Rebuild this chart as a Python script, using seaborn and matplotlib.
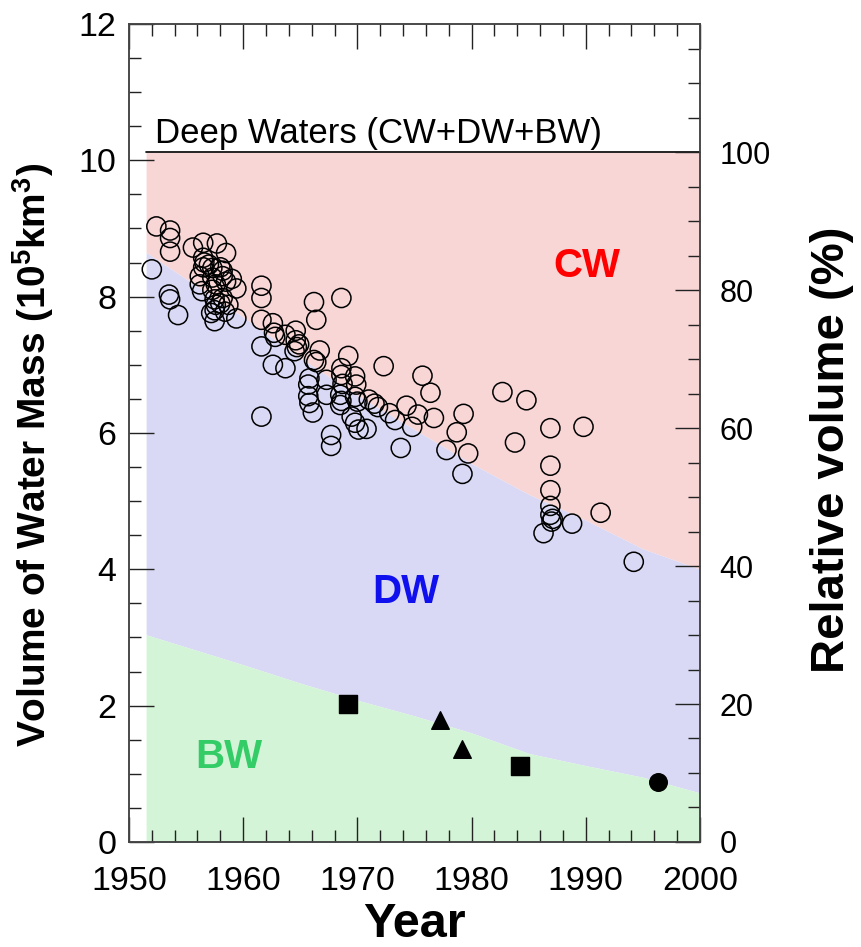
import numpy as np
import pandas as pd
import matplotlib
matplotlib.use("Agg")
import matplotlib.pyplot as plt
import seaborn as sns
from matplotlib.ticker import MultipleLocator

# ---- data ----
obs_year = [
    1952.0, 1952.4, 1953.6, 1953.6, 1953.6, 1953.5, 1953.6, 1954.3, 1955.6, 1956.5,
    1957.7, 1958.5, 1956.5, 1956.6, 1956.5, 1957.0, 1957.3, 1958.0, 1958.2, 1956.2,
    1956.2, 1957.3, 1957.6, 1957.3, 1958.2, 1958.5, 1959.0, 1959.4, 1956.4, 1957.5,
    1957.6, 1957.5, 1958.2, 1958.0, 1958.7, 1957.2, 1958.4, 1957.5, 1959.4,
    1961.6, 1961.6, 1961.6, 1962.6, 1962.7, 1962.8, 1963.7, 1964.6, 1964.6, 1964.7,
    1964.5, 1964.9, 1961.6, 1962.6, 1963.7, 1961.6,
    1966.2, 1968.6, 1966.4, 1966.7, 1969.2, 1966.2, 1966.4, 1968.6, 1965.8, 1965.7,
    1967.3, 1968.6, 1968.7, 1969.8, 1969.9, 1965.7, 1965.8, 1967.3, 1968.5, 1968.6,
    1969.8, 1970.0, 1966.1, 1968.5, 1971.0, 1971.5, 1971.8, 1969.5, 1969.8, 1970.1,
    1970.8, 1967.7, 1967.7, 1972.3,
    1972.8, 1973.3, 1974.3, 1975.3, 1976.7, 1979.3, 1974.8, 1978.7, 1973.8, 1977.8,
    1979.7, 1979.2, 1975.7, 1976.4,
    1982.7, 1984.8, 1983.8, 1986.9, 1989.8, 1986.9, 1986.9, 1986.9, 1986.9, 1987.1,
    1987.0, 1988.8, 1986.3, 1991.3, 1994.2,
]
obs_volume = [
    8.40, 9.03, 8.97, 8.86, 8.66, 8.03, 7.96, 7.73, 8.72, 8.79,
    8.78, 8.64, 8.57, 8.50, 8.43, 8.47, 8.42, 8.43, 8.38, 8.30,
    8.18, 8.28, 8.18, 8.10, 8.30, 8.22, 8.26, 8.12, 8.08, 7.96,
    7.88, 7.80, 7.98, 7.90, 7.88, 7.76, 7.78, 7.64, 7.68,
    8.16, 7.98, 7.66, 7.61, 7.47, 7.41, 7.44, 7.50, 7.36, 7.26,
    7.20, 7.30, 7.27, 7.00, 6.95, 6.24,
    7.92, 7.98, 7.66, 7.21, 7.13, 7.07, 7.04, 6.95, 6.80, 6.71,
    6.78, 6.85, 6.72, 6.83, 6.71, 6.54, 6.44, 6.56, 6.56, 6.47,
    6.53, 6.46, 6.30, 6.41, 6.49, 6.43, 6.38, 6.24, 6.15, 6.05,
    6.06, 5.97, 5.81, 6.98,
    6.29, 6.19, 6.40, 6.27, 6.22, 6.28, 6.09, 6.01, 5.78, 5.75,
    5.70, 5.40, 6.84, 6.59,
    6.60, 6.48, 5.86, 6.07, 6.09, 5.52, 5.16, 4.93, 4.80, 4.74,
    4.70, 4.67, 4.53, 4.83, 4.11,
]

bw_year = [1969.2, 1977.2, 1979.2, 1984.2, 1996.3]
bw_volume = [2.02, 1.79, 1.37, 1.12, 0.88]
bw_marker = ["s", "^", "^", "s", "o"]

bound_year = [1951.5, 1960, 1965, 1970, 1975, 1980, 1985, 1990, 1995, 2000]
dw_upper = [8.65, 7.70, 7.10, 6.55, 6.05, 5.55, 5.10, 4.72, 4.30, 4.00]
bw_upper = [3.04, 2.60, 2.33, 2.08, 1.85, 1.60, 1.30, 1.12, 0.95, 0.72]
total_deep = 10.12

x_ticks = [1950, 1960, 1970, 1980, 1990, 2000]
y_ticks = [0, 2, 4, 6, 8, 10, 12]
pct_ticks = [0, 20, 40, 60, 80, 100]

# ---- style ----
sns.set_style("ticks")
plt.rcParams["font.family"] = ["Liberation Sans", "DejaVu Sans"]
plt.rcParams["mathtext.fontset"] = "custom"
plt.rcParams["mathtext.rm"] = "Liberation Sans"
plt.rcParams["mathtext.bf"] = "Liberation Sans:bold"
for key in ["text.color", "axes.labelcolor", "xtick.color", "ytick.color"]:
    plt.rcParams[key] = "black"

fig = plt.figure(figsize=(8.61, 9.47), dpi=100)
ax = fig.add_axes([0.1498, 0.1109, 0.813 - 0.1498, 0.9747 - 0.1109])

# region shading
ax.fill_between(bound_year, dw_upper, total_deep, color="#f8d6d6", lw=0, zorder=0)
ax.fill_between(bound_year, bw_upper, dw_upper, color="#d9d9f5", lw=0, zorder=0)
ax.fill_between(bound_year, 0, bw_upper, color="#d3f4d6", lw=0, zorder=0)
ax.plot([bound_year[0], bound_year[-1]], [total_deep, total_deep], color="black", lw=1.2, zorder=1)

# observations (open circles)
sns.scatterplot(x=obs_year, y=obs_volume, marker="o", s=190, facecolor="none",
                edgecolor="black", linewidth=1.1, ax=ax, zorder=3, legend=False)

# bottom water estimates (filled markers)
bw_df = pd.DataFrame({"year": bw_year, "vol": bw_volume, "mk": bw_marker})
for mk, grp in bw_df.groupby("mk"):
    sns.scatterplot(data=grp, x="year", y="vol", marker=mk, s=160, color="black",
                    edgecolor="black", ax=ax, zorder=4, legend=False)

# texts
ax.text(1952.3, 10.25, "Deep Waters (CW+DW+BW)", fontsize=25, ha="left", va="baseline")
ax.text(1990.1, 8.45, "CW", fontsize=29, fontweight="bold", color="#ff0000", ha="center", va="center")
ax.text(1974.2, 3.67, "DW", fontsize=29, fontweight="bold", color="#1010ee", ha="center", va="center")
ax.text(1958.7, 1.25, "BW", fontsize=29, fontweight="bold", color="#33cc66", ha="center", va="center")

# axes
ax.set_xlim(1950, 2000)
ax.set_ylim(0, 12)
ax.set_xticks(x_ticks)
ax.set_xticklabels([str(v) for v in x_ticks])
ax.set_yticks(y_ticks)
ax.set_yticklabels([str(v) for v in y_ticks])
ax.xaxis.set_minor_locator(MultipleLocator(2))
ax.yaxis.set_minor_locator(MultipleLocator(0.5))
ax.tick_params(axis="both", which="major", direction="in", length=18, width=1.0,
               labelsize=24.5, top=True, right=False, color="#222222")
ax.tick_params(axis="x", which="major", pad=17)
ax.tick_params(axis="y", which="major", pad=9)
ax.tick_params(axis="both", which="minor", direction="in", length=8.5, width=1.0,
               top=True, right=False, color="#222222")
ax.set_xlabel("Year", fontsize=35, fontweight="bold")
ax.xaxis.set_label_coords(0.5, -0.073)
ax.set_ylabel(r"Volume of Water Mass (10$^\mathbf{5}$km$^\mathbf{3}$)", fontsize=28,
              fontweight="bold")
ax.yaxis.set_label_coords(-0.127, 0.473)
for sp in ax.spines.values():
    sp.set_color("#444444")
    sp.set_linewidth(1.1)

ax2 = ax.twinx()
ax2.set_ylim(0, 12 / total_deep * 100)
ax2.set_yticks(pct_ticks)
ax2.set_yticklabels([str(v) for v in pct_ticks])
ax2.yaxis.set_minor_locator(MultipleLocator(5))
ax2.tick_params(axis="y", which="major", direction="in", length=18, width=1.0,
                labelsize=22, pad=14, color="#222222")
ax2.tick_params(axis="y", which="minor", direction="in", length=8.5, width=1.0, color="#222222")
ax2.set_ylabel("Relative volume (%)", fontsize=34, fontweight="bold")
ax2.yaxis.set_label_coords(1.193, 0.479)
for sp in ax2.spines.values():
    sp.set_color("#444444")
    sp.set_linewidth(1.1)

fig.savefig("out.png", dpi=100)
